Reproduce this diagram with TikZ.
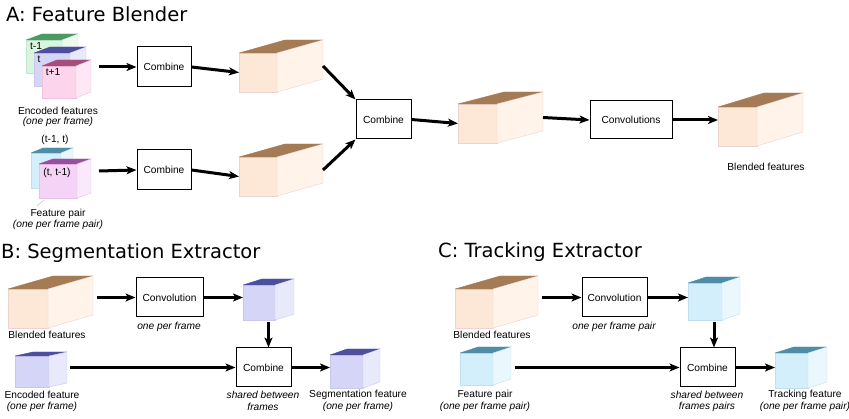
\documentclass[tikz,border=0pt]{standalone}
\usepackage{fontspec}
\setmainfont{Liberation Sans}
\newfontfamily\titlefont{DejaVu Sans}
\usetikzlibrary{arrows.meta,calc}
\definecolor{orF}{HTML}{FDE8D7}\definecolor{orS}{HTML}{FFF3EA}\definecolor{orT}{HTML}{A57B55}\definecolor{orE}{HTML}{EAD3D0}
\definecolor{buF}{HTML}{D5D5F7}\definecolor{buS}{HTML}{E9E9FC}\definecolor{buT}{HTML}{4E4E9E}\definecolor{buE}{HTML}{C8C8EE}
\definecolor{lbF}{HTML}{D3EFFB}\definecolor{lbS}{HTML}{EAF8FE}\definecolor{lbT}{HTML}{4F8CA8}\definecolor{lbE}{HTML}{C0E0F0}
\definecolor{grF}{HTML}{D9F5DE}\definecolor{grS}{HTML}{ECFAEF}\definecolor{grT}{HTML}{4B9A66}\definecolor{grE}{HTML}{C0E8C8}
\definecolor{pkF}{HTML}{FCD4EC}\definecolor{pkS}{HTML}{FEE8F5}\definecolor{pkT}{HTML}{A44F7B}\definecolor{pkE}{HTML}{F0C0DC}
\definecolor{viF}{HTML}{F4D3F6}\definecolor{viS}{HTML}{FAE8FB}\definecolor{viT}{HTML}{9A4F9E}\definecolor{viE}{HTML}{E8C0EA}
\newcommand\labfont{\fontsize{10.2}{12}\selectfont}
\newcommand\mycube[8]{%
  \filldraw[fill=#2F,draw=#2E,line width=0.4pt] (#3,#4) rectangle (#5,#6);
  \filldraw[fill=#2T,draw=#2T,line width=0.4pt,line join=round] (#3,#4) -- (#3+#7,#4-#8) -- (#5+#7,#4-#8) -- (#5,#4) -- cycle;
  \filldraw[fill=#2S,draw=#2E,line width=0.4pt] (#5,#4) -- (#5+#7,#4-#8) -- (#5+#7,#6-#8) -- (#5,#6) -- cycle;
  \coordinate (#1-w) at (#3,{(#4+#6)/2});
  \coordinate (#1-e) at (#5+#7,{(#4+#6-#8)/2});
  \coordinate (#1-s) at ({(#3+#5+#7)/2},#6);
}
\tikzset{
  box/.style={draw,line width=1pt,fill=white,inner sep=0pt,font=\labfont},
  lab/.style={inner sep=0pt,font=\labfont},
  ilab/.style={inner sep=0pt,font=\labfont\itshape},
  ttl/.style={inner sep=0pt,anchor=base west,font=\titlefont\fontsize{19.5}{22}\selectfont},
  arr/.style={line width=3pt,-{Stealth[length=10pt,width=8pt,inset=2.5pt]}},
}
\begin{document}
\begin{tikzpicture}[x=1pt,y=-1pt]
\useasboundingbox (0,0) rectangle (849,419);
% ---------- A ----------
\node[ttl] (tA) at (6,22) {A: Feature Blender};
\mycube{g}{gr}{26}{40}{62}{73}{16}{6}
\mycube{b}{bu}{34}{53}{70}{86}{16}{6}
\mycube{p}{pk}{42}{66}{76}{98}{15}{6}
\node[lab] (lt1) at (36,46) {t-1};
\node[lab] (lt) at (39,59) {t};
\node[lab] (lt2) at (53,72) {t+1};
\node[lab] (enc) at (58,111) {Encoded features};
\node[ilab] (enc2) at (58,122) {(one per frame)};
\mycube{fb}{lb}{31}{153}{61}{188}{12}{5}
\mycube{fv}{vi}{39}{164}{77}{198}{14}{5}
\node[lab] (lp1) at (55,140) {(t-1, t)};
\node[lab] (lp2) at (57,173) {(t, t-1)};
\draw[gray!50,line width=0.5pt] (37,206) -- (44,200);
\node[lab] (fp) at (58,214) {Feature pair};
\node[ilab] (fp2) at (58,225) {(one per frame pair)};
\coordinate (encS) at (99,67);
\coordinate (pairS) at (99,171);
\node[box,minimum width=54pt,minimum height=40pt] (c1) at (164,67) {Combine};
\node[box,minimum width=54pt,minimum height=40pt] (c2) at (164,170) {Combine};
\mycube{cA1}{or}{239}{53}{277}{92}{46}{13}
\mycube{cA2}{or}{239}{157}{277}{196}{46}{13}
\node[box,minimum width=55pt,minimum height=39pt] (c3) at (383.5,119.5) {Combine};
\mycube{cA3}{or}{458}{104}{497}{143}{46}{12}
\node[box,minimum width=82pt,minimum height=38pt] (conv) at (631,120) {Convolutions};
\mycube{cA4}{or}{718}{107}{757}{146}{46}{14}
\node[lab] (bl) at (766,167) {Blended features};
\draw[arr] (encS) -- (c1.west);
\draw[arr] (pairS) -- (c2.west);
\draw[arr] (c1.east) -- (cA1-w);
\draw[arr] (c2.east) -- (cA2-w);
\draw[arr] (cA1-e) -- (c3.north west);
\draw[arr] (cA2-e) -- (c3.south west);
\draw[arr] (c3.east) -- (cA3-w);
\draw[arr] (cA3-e) -- (conv.west);
\draw[arr] (conv.east) -- (conv.east -| cA4-w);
% ---------- B ----------
\node[ttl] (tB) at (1,259) {B: Segmentation Extractor};
\mycube{bf1}{or}{8}{289}{48}{328}{45}{13}
\node[lab] (bfl1) at (47,335) {Blended features};
\node[box,minimum width=67pt,minimum height=39pt] (conv1) at (169.5,297.5) {Convolution};
\node[ilab] (opf) at (169,327) {one per frame};
\mycube{sb1}{bu}{243}{285}{275}{320}{19}{6}
\node[box,minimum width=55pt,minimum height=39pt] (comb4) at (263.5,367.5) {Combine};
\node[ilab] (sh1) at (263,395) {shared between};
\node[ilab] (sh1b) at (263,407) {frames};
\mycube{ef}{bu}{15}{356}{49}{387}{18}{4}
\node[lab] (efl) at (42,395) {Encoded feature};
\node[ilab] (efl2) at (42,407) {(one per frame)};
\mycube{seg}{bu}{330}{355}{363}{388}{17}{6}
\node[lab] (sgl) at (358,395) {Segmentation feature};
\node[ilab] (sgl2) at (358,407) {(one per frame)};
\draw[arr] ($(bf1-e |- conv1.west)+(4,0)$) -- (conv1.west);
\draw[arr] (conv1.east) -- (conv1.east -| sb1-w);
\draw[arr] ($(sb1-s)+(0,2)$) -- (sb1-s |- comb4.north);
\draw[arr] ($(ef-e |- comb4.west)+(3,0)$) -- (comb4.west);
\draw[arr] (comb4.east) -- (comb4.east -| seg-w);
% ---------- C ----------
\node[ttl] (tC) at (438,258) {C: Tracking Extractor};
\mycube{bf2}{or}{455}{289}{493}{328}{45}{13}
\node[lab] (bfl2) at (492,335) {Blended features};
\node[box,minimum width=65pt,minimum height=39pt] (conv2) at (614.5,297.5) {Convolution};
\node[ilab] (opfp) at (614,327) {one per frame pair};
\mycube{lb1}{lb}{688}{283}{722}{320}{18}{6}
\node[box,minimum width=55pt,minimum height=39pt] (comb5) at (707.5,367.5) {Combine};
\node[ilab] (sh2) at (707,395) {shared between};
\node[ilab] (sh2b) at (707,407) {frames pairs};
\mycube{fp3}{lb}{460}{353}{493}{385}{18}{6}
\node[lab] (fpl) at (485,395) {Feature pair};
\node[ilab] (fpl2) at (485,407) {(one per frame pair)};
\mycube{tf}{lb}{775}{353}{808}{388}{19}{6}
\node[lab] (tfl) at (805,395) {Tracking feature};
\node[ilab] (tfl2) at (805,407) {(one per frame pair)};
\draw[arr] ($(bf2-e |- conv2.west)+(4,0)$) -- (conv2.west);
\draw[arr] (conv2.east) -- (conv2.east -| lb1-w);
\draw[arr] ($(lb1-s)+(0,2)$) -- (lb1-s |- comb5.north);
\draw[arr] ($(fp3-e |- comb5.west)+(4,0)$) -- (comb5.west);
\draw[arr] (comb5.east) -- (comb5.east -| tf-w);
\end{tikzpicture}
\end{document}
